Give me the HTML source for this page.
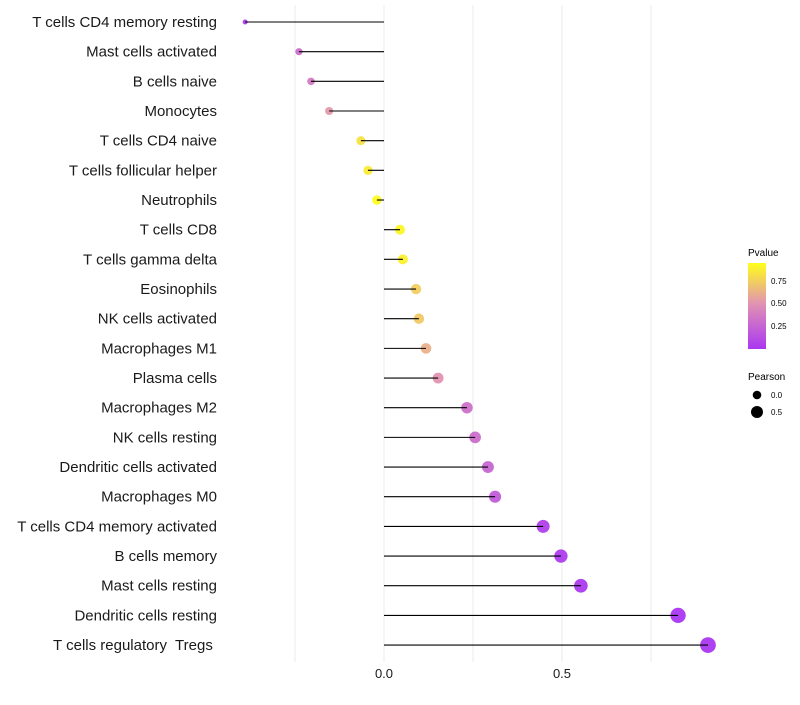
<!DOCTYPE html>
<html><head><meta charset="utf-8"><style>
body{margin:0;background:#fff;font-family:"Liberation Sans",sans-serif}
svg text{font-family:"Liberation Sans",sans-serif;white-space:pre}
</style></head><body>
<svg id="chart" width="800" height="700" xmlns="http://www.w3.org/2000/svg">
<g id="grid"></g>
<g id="marks"></g>
<g id="ylabels"></g>
<g id="xlabels"></g>
<g>
<defs><linearGradient id="pg" x1="0" y1="1" x2="0" y2="0">
<stop offset="0" stop-color="rgb(160,32,240)"/><stop offset="0.53" stop-color="rgb(222,135,170)"/><stop offset="1" stop-color="rgb(255,255,0)"/></linearGradient></defs>
<text x="748" y="256" font-size="10">Pvalue</text>
<rect x="748" y="263" width="18" height="86" fill="url(#pg)" opacity="0.9"/>
<text x="771" y="284" font-size="8">0.75</text>
<text x="771" y="306" font-size="8">0.50</text>
<text x="771" y="329" font-size="8">0.25</text>
</g>
<g>
<text x="748" y="380" font-size="10">Pearson</text>
<circle cx="757" cy="395" r="4.3" fill="#000"/>
<text x="771" y="398" font-size="8">0.0</text>
<circle cx="757" cy="412" r="6" fill="#000"/>
<text x="771" y="415" font-size="8">0.5</text>
</g>
</svg>
<script>
const categories=["T cells CD4 memory resting","Mast cells activated","B cells naive","Monocytes","T cells CD4 naive","T cells follicular helper","Neutrophils","T cells CD8","T cells gamma delta","Eosinophils","NK cells activated","Macrophages M1","Plasma cells","Macrophages M2","NK cells resting","Dendritic cells activated","Macrophages M0","T cells CD4 memory activated","B cells memory","Mast cells resting","Dendritic cells resting","T cells regulatory  Tregs "];
const pearson=[-0.39,-0.239,-0.205,-0.154,-0.065,-0.045,-0.02,0.045,0.053,0.09,0.098,0.118,0.152,0.233,0.256,0.292,0.312,0.447,0.497,0.553,0.826,0.91];
const pvalues=[0.02,0.3,0.36,0.52,0.82,0.86,0.93,0.9,0.88,0.74,0.72,0.62,0.5,0.32,0.3,0.26,0.2,0.05,0.03,0.02,0.002,0.0005];
const xTicks=[0,0.5];
const xTickLabels=["0.0","0.5"];
const gridVals=[-0.25,0,0.25,0.5,0.75];
const ns="http://www.w3.org/2000/svg";
const x=v=>384+v*356;
const y=i=>22+i*29.67;
const r=v=>Math.sqrt(Math.max(3.5,23+43*v));
function col(p){const t=Math.max(0,Math.min(1,p/0.94));const a=[160,32,240],m=[222,135,170],b=[255,255,0];let c;
if(t<0.53){const u=t/0.53;c=a.map((v,k)=>v+(m[k]-v)*u);}else{const u=(t-0.53)/0.47;c=m.map((v,k)=>v+(b[k]-v)*u);}
return `rgb(${c.map(Math.round).join(",")})`;}
function mk(tag,attrs,parent){const e=document.createElementNS(ns,tag);for(const k in attrs)e.setAttribute(k,attrs[k]);parent.appendChild(e);return e;}
const grid=document.getElementById('grid'),marks=document.getElementById('marks'),yl=document.getElementById('ylabels'),xl=document.getElementById('xlabels');
gridVals.forEach(g=>{const l=mk('line',{x1:x(g),x2:x(g),y1:5,y2:662,stroke:'#ebebeb','stroke-width':1},grid);

});
categories.forEach((c,i)=>{
const t=mk('text',{x:217,y:y(i)+5,'text-anchor':'end','font-size':15,fill:'#1a1a1a'},yl);t.textContent=c;


const pt=mk('circle',{cx:x(pearson[i]),cy:y(i),r:r(pearson[i]),fill:col(pvalues[i]),'fill-opacity':0.85},marks);


const s=mk('line',{x1:x(0),x2:x(pearson[i]),y1:y(i),y2:y(i),stroke:'#000','stroke-width':1.1},marks);


});
xTicks.forEach((v,i)=>{const t=mk('text',{x:x(v),y:678,'text-anchor':'middle','font-size':13,fill:'#1a1a1a'},xl);t.textContent=xTickLabels[i];

});
</script>
</body></html>
